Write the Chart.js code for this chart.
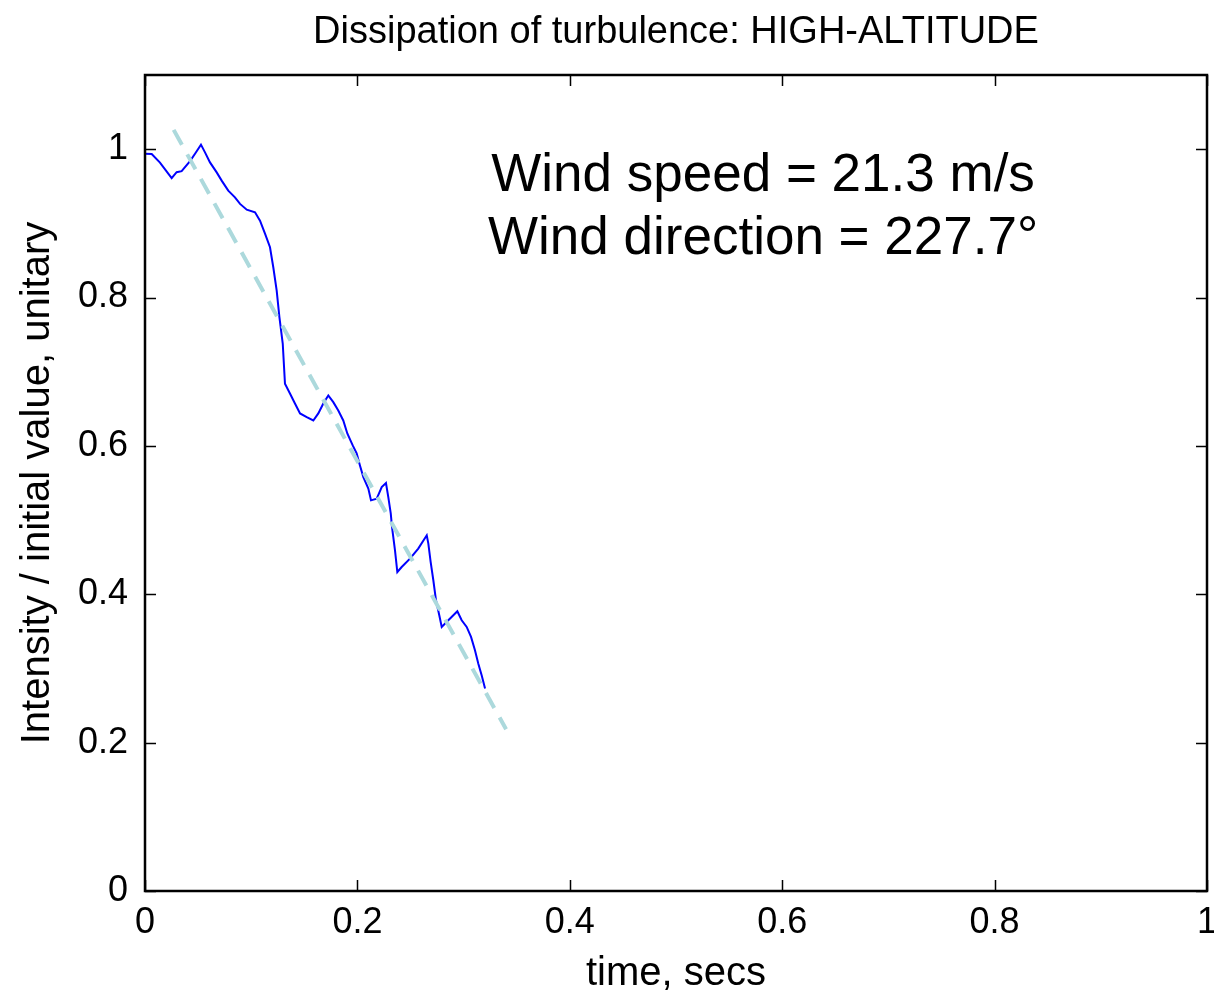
<!DOCTYPE html>
<html>
<head>
<meta charset="utf-8">
<script src="https://cdn.jsdelivr.net/npm/chart.js@4.4.1/dist/chart.umd.min.js"></script>
<style>
  html, body { margin: 0; padding: 0; background: #fff; }
  #wrap { width: 1214px; height: 998px; }
</style>
</head>
<body>
<div id="wrap"><canvas id="mainChart" width="1214" height="998"></canvas></div>
<script>
// measured series: time (secs) vs intensity / initial value
const timeSecs = [0, 0.0063, 0.0141, 0.0251, 0.0298, 0.0345, 0.0424, 0.0471, 0.0527, 0.0565,
  0.0612, 0.0675, 0.0722, 0.0784, 0.0847, 0.0895, 0.0958, 0.1036, 0.1083, 0.1130,
  0.1177, 0.1208, 0.1240, 0.1265, 0.1297, 0.1318, 0.1365, 0.1412, 0.1460, 0.1523,
  0.1585, 0.1632, 0.1679, 0.1726, 0.1773, 0.1820, 0.1867, 0.1905, 0.1956, 0.1993,
  0.2024, 0.2056, 0.2103, 0.2128, 0.2182, 0.2229, 0.2269, 0.2291, 0.2314, 0.2326,
  0.2354, 0.2376, 0.2417, 0.2495, 0.2573, 0.2653, 0.2668, 0.2690, 0.2715, 0.2740,
  0.2771, 0.2794, 0.2856, 0.2941, 0.2982, 0.3029, 0.3070, 0.3107, 0.3138, 0.3170,
  0.3202];
const intensity = [0.994, 0.9935, 0.982, 0.961, 0.969, 0.9704, 0.9839, 0.9939, 1.0061, 0.9957,
  0.9822, 0.9687, 0.9576, 0.9441, 0.9351, 0.9262, 0.9185, 0.9149, 0.9037, 0.8862,
  0.8678, 0.8408, 0.8094, 0.7744, 0.7380, 0.6838, 0.6707, 0.6572, 0.6438, 0.6388,
  0.6343, 0.6438, 0.6572, 0.6680, 0.6590, 0.6478, 0.6343, 0.6168, 0.6007, 0.5899,
  0.5737, 0.5580, 0.5424, 0.5266, 0.5289, 0.5445, 0.5499, 0.5310, 0.5091, 0.4906,
  0.4593, 0.4300, 0.4368, 0.4481, 0.4616, 0.4795, 0.4683, 0.4435, 0.4189, 0.3919,
  0.3717, 0.3560, 0.3650, 0.3771, 0.3650, 0.3560, 0.3425, 0.3246, 0.3067, 0.2909,
  0.2730];

// fitted decay line (dashed)
const fitTime = [0.027, 0.340];
const fitIntensity = [1.026, 0.218];

const xTicks = [0, 0.2, 0.4, 0.6, 0.8, 1];
const yTicks = [0, 0.2, 0.4, 0.6, 0.8, 1];

const titleText = 'Dissipation of turbulence: HIGH-ALTITUDE';
const xLabel = 'time, secs';
const yLabel = 'Intensity / initial value, unitary';
const noteLines = ['Wind speed = 21.3 m/s', 'Wind direction = 227.7\u00B0'];
const notePos = [[0.582, 0.944], [0.582, 0.859]];

const FONT = 'Arial, "Liberation Sans", Helvetica, sans-serif';

function toPoints(xs, ys) {
  return xs.map((x, i) => ({ x: x, y: ys[i] }));
}

// box + inward ticks (matlab style) + the text note
const boxPlugin = {
  id: 'boxPlugin',
  afterDraw(chart) {
    const ctx = chart.ctx;
    const a = chart.chartArea;
    const xs = chart.scales.x;
    const ys = chart.scales.y;
    ctx.save();
    ctx.strokeStyle = '#000';
    ctx.lineWidth = 1.5;
    ctx.beginPath();
    xTicks.forEach((v) => {
      const px = Math.round(xs.getPixelForValue(v)) + 0.5;
      ctx.moveTo(px, a.bottom); ctx.lineTo(px, a.bottom - 11);
      ctx.moveTo(px, a.top); ctx.lineTo(px, a.top + 11);
    });
    yTicks.forEach((v) => {
      const py = Math.round(ys.getPixelForValue(v)) + 0.5;
      ctx.moveTo(a.left, py); ctx.lineTo(a.left + 11, py);
      ctx.moveTo(a.right, py); ctx.lineTo(a.right - 11, py);
    });
    ctx.stroke();
    ctx.lineWidth = 2.5;
    ctx.strokeRect(a.left, a.top, a.right - a.left, a.bottom - a.top);

    ctx.fillStyle = '#000';
    ctx.font = '53px ' + FONT;
    ctx.textAlign = 'center';
    ctx.textBaseline = 'alphabetic';
    noteLines.forEach((t, i) => {
      ctx.fillText(t, xs.getPixelForValue(notePos[i][0]), ys.getPixelForValue(notePos[i][1]));
    });
    ctx.restore();
  }
};

Chart.defaults.color = '#000';
Chart.defaults.font.family = FONT;

const ctx = document.getElementById('mainChart').getContext('2d');
const chart = new Chart(ctx, {
  type: 'scatter',
  data: {
    datasets: [
      {
        label: 'fit',
        data: toPoints(fitTime, fitIntensity),
        showLine: true,
        borderColor: '#acd9dc',
        borderWidth: 4,
        borderDash: [17, 11],
        pointRadius: 0,
        fill: false
      },
      {
        label: 'intensity',
        data: toPoints(timeSecs, intensity),
        showLine: true,
        borderColor: '#0000ff',
        borderWidth: 2,
        pointRadius: 0,
        tension: 0,
        fill: false
      }
    ]
  },
  options: {
    responsive: false,
    animation: false,
    layout: { padding: { left: 0, right: 7, top: 0, bottom: 0 } },
    plugins: {
      legend: { display: false },
      tooltip: { enabled: false },
      title: {
        display: true,
        fullSize: false,
        text: titleText,
        color: '#000',
        font: { size: 38, weight: 'normal', family: FONT },
        padding: { top: 10, bottom: 19.4 }
      }
    },
    scales: {
      x: {
        type: 'linear',
        min: 0,
        max: 1,
        afterFit: (s) => { s.height = 107; s.paddingLeft = 0; s.paddingRight = 0; },
        afterBuildTicks: (s) => { s.ticks = xTicks.map((v) => ({ value: v })); },
        grid: { display: false, drawTicks: false },
        border: { display: false },
        ticks: {
          font: { size: 36 },
          padding: 10,
          maxRotation: 0,
          callback: (v) => String(Math.round(v * 10) / 10)
        },
        title: {
          display: true,
          text: xLabel,
          font: { size: 40 },
          padding: { top: 0, bottom: 0 }
        }
      },
      y: {
        type: 'linear',
        min: 0,
        max: 1.1,
        afterFit: (s) => { s.width = 145; s.paddingTop = 0; s.paddingBottom = 0; },
        afterBuildTicks: (s) => { s.ticks = yTicks.map((v) => ({ value: v })); },
        grid: { display: false, drawTicks: false },
        border: { display: false },
        ticks: {
          font: { size: 36 },
          padding: 17,
          callback: (v) => String(Math.round(v * 10) / 10)
        },
        title: {
          display: true,
          text: yLabel,
          font: { size: 40 },
          padding: { top: 14, bottom: 0 }
        }
      }
    }
  },
  plugins: [boxPlugin]
});
</script>
</body>
</html>
